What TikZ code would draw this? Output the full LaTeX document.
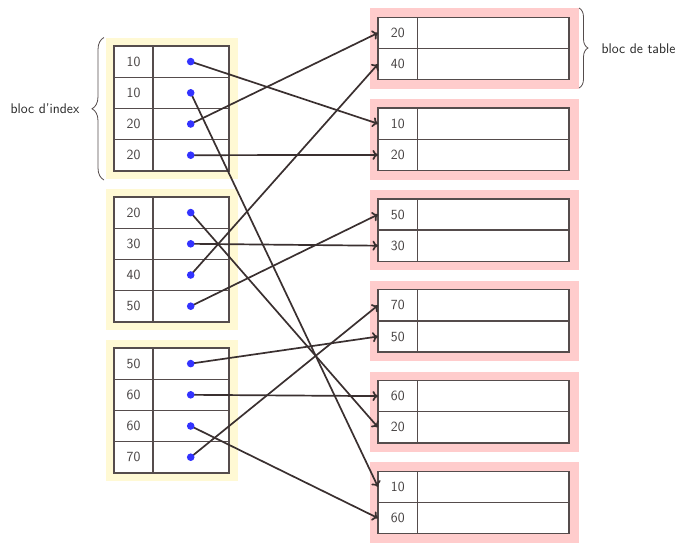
\documentclass[tikz,border=0pt]{standalone}
\usetikzlibrary{decorations.pathreplacing,arrows.meta}
\definecolor{yel}{RGB}{255,249,212}
\definecolor{pnk}{RGB}{255,204,204}
\definecolor{cellc}{RGB}{85,76,76}
\definecolor{linec}{RGB}{58,48,48}
\definecolor{dotc}{RGB}{51,51,255}
\definecolor{txt}{RGB}{68,64,64}
\begin{document}
\begin{tikzpicture}[x=1pt,y=-1pt,
  cellbase/.style={draw=cellc, line width=1.4pt, fill=white, minimum height=31.2pt,
    inner sep=0pt, outer sep=0pt, anchor=north west,
    font=\sffamily\fontsize{14}{16}\selectfont, text=txt},
  ikey/.style={cellbase, minimum width=39pt},
  ival/.style={cellbase, minimum width=76pt},
  tkey/.style={cellbase, minimum width=39.5pt},
  tval/.style={cellbase, minimum width=151.5pt},
  conn/.style={draw=linec, line width=1.7pt, -{To[length=5.5pt,width=10pt]}},
  bracestyle/.style={draw=cellc, line width=0.8pt, decorate},
  lbl/.style={font=\sffamily\fontsize{14}{16}\selectfont, text=black!85, inner sep=0pt}
]
\useasboundingbox (0,0) rectangle (680,542);

% index blocks
\foreach \b/\keys in {0/{10,10,20,20},1/{20,30,40,50},2/{50,60,60,70}} {
  \fill[yel] (106,{46+151*\b-8.5}) rectangle (238,{46+151*\b+124.8+8.5});
  \foreach \k [count=\r from 0] in \keys {
    \node[ikey] (ik\b\r) at (114,{46+151*\b+31.2*\r}) {\k};
    \node[ival] (iv\b\r) at (153,{46+151*\b+31.2*\r}) {};
    \coordinate (d\b\r) at (190.7,{46+151*\b+31.2*\r+15.6});
  }
}

% table blocks
\foreach \t/\keys in {0/{20,40},1/{10,20},2/{50,30},3/{70,50},4/{60,20},5/{10,60}} {
  \fill[pnk] (370,{17.3+90.8*\t-9}) rectangle (579,{17.3+90.8*\t+62.4+9});
  \foreach \k [count=\r from 0] in \keys {
    \node[tkey] (tk\t\r) at (378,{17.3+90.8*\t+31.2*\r}) {\k};
    \node[tval] (tv\t\r) at (417.5,{17.3+90.8*\t+31.2*\r}) {};
  }
}

% connectors
\draw[conn] (d00) -- (tk10.west);
\draw[conn] (d01) -- (tk50.west);
\draw[conn] (d02) -- (tk00.west);
\draw[conn] (d03) -- (tk11.west);
\draw[conn] (d10) -- (tk41.west);
\draw[conn] (d11) -- (tk21.west);
\draw[conn] (d12) -- (tk01.west);
\draw[conn] (d13) -- (tk20.west);
\draw[conn] (d20) -- (tk31.west);
\draw[conn] (d21) -- (tk40.west);
\draw[conn] (d22) -- (tk51.west);
\draw[conn] (d23) -- (tk30.west);

% dots
\foreach \b in {0,1,2} {
  \foreach \r in {0,1,2,3} {
    \fill[dotc] (d\b\r) circle (3.8);
  }
}

% braces
\coordinate (lbA) at (104,180);
\coordinate (lbB) at (104,37.5);
\draw[bracestyle, decoration={brace, amplitude=12pt}] (lbA) -- (lbB);
\node[lbl, anchor=east] (lidx) at (79.5,108.5) {bloc d'index};

\coordinate (rbA) at (579,8);
\coordinate (rbB) at (579,88);
\draw[bracestyle, decoration={brace, amplitude=9pt}] (rbA) -- (rbB);
\node[lbl, anchor=west] (ltab) at (601.5,48.5) {bloc de table};
\end{tikzpicture}
\end{document}
